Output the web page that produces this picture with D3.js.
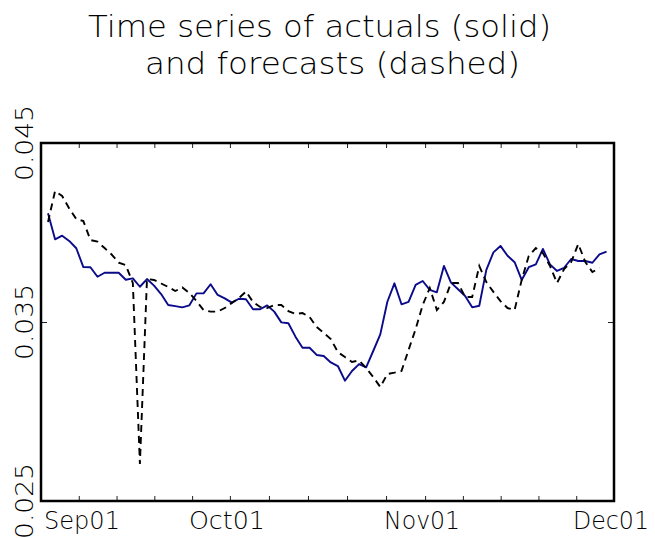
<!DOCTYPE html>
<html>
<head>
<meta charset="UTF-8">
<title>Actuals vs forecasts</title>
<script src="https://d3js.org/d3.v7.min.js"></script>
<style>
  body { margin: 0; background: #fff; overflow: hidden; }
  svg { display: block; }
  text { font-family: 'DejaVu Sans', sans-serif; font-weight: 200; fill: #000; }
  .tick line { stroke: #222; stroke-width: 1; }
  .domain { display: none; }
</style>
</head>
<body>
<svg id="chart" width="655" height="538"></svg>
<script>
// --- data ---
const titleLines = ["Time series of actuals (solid)", "and forecasts (dashed)"];
const monthTicks = ["2001-09-01", "2001-10-01", "2001-11-01", "2001-12-01"];
const yTicks = [0.025, 0.035, 0.045];

// sampling of the series (days after Sep 1)
const firstOffset = 1.112, stepDays = 1.1228;

const actual = [
  0.04107, 0.03962, 0.03982, 0.03953, 0.03912, 0.03807, 0.03806, 0.03753, 0.03775, 0.03775,
  0.03775, 0.03736, 0.03744, 0.03697, 0.03740, 0.03703, 0.03656, 0.03595, 0.03589, 0.03582,
  0.03593, 0.03660, 0.03660, 0.03711, 0.03651, 0.03632, 0.03608, 0.03630, 0.03627, 0.03571,
  0.03571, 0.03593, 0.03558, 0.03498, 0.03493, 0.03418, 0.03356, 0.03356, 0.03316, 0.03310,
  0.03274, 0.03254, 0.03172, 0.03226, 0.03265, 0.03247, 0.03338, 0.03431, 0.03613, 0.03716,
  0.03599, 0.03613, 0.03707, 0.03729, 0.03679, 0.03666, 0.03813, 0.03720, 0.03683, 0.03645,
  0.03582, 0.03591, 0.03791, 0.03889, 0.03925, 0.03870, 0.03834, 0.03735, 0.03806, 0.03822,
  0.03908, 0.03822, 0.03785, 0.03803, 0.03852, 0.03841, 0.03841, 0.03831, 0.03878, 0.03893
];

const forecast = [
  0.04059, 0.04232, 0.04204, 0.04134, 0.04075, 0.04064, 0.03958, 0.03949, 0.03913, 0.03877,
  0.03832, 0.03818, 0.03718, 0.02707, 0.03740, 0.03735, 0.03715, 0.03696, 0.03673, 0.03693,
  0.03662, 0.03617, 0.03567, 0.03558, 0.03558, 0.03578, 0.03606, 0.03634, 0.03670, 0.03612,
  0.03584, 0.03578, 0.03595, 0.03595, 0.03561, 0.03545, 0.03550, 0.03528, 0.03472, 0.03439,
  0.03405, 0.03332, 0.03304, 0.03277, 0.03285, 0.03243, 0.03193, 0.03137, 0.03209, 0.03217,
  0.03226, 0.03344, 0.03461, 0.03595, 0.03690, 0.03567, 0.03612, 0.03718, 0.03718, 0.03640,
  0.03640, 0.03813, 0.03723, 0.03668, 0.03617, 0.03578, 0.03567, 0.03735, 0.03869, 0.03913,
  0.03885, 0.03813, 0.03718, 0.03796, 0.03835, 0.03936, 0.03835, 0.03779, 0.03802
];

// --- layout ---
const svg = d3.select("#chart");
const plot = { left: 41, right: 614, top: 143, bottom: 501 };

const parse = d3.timeParse("%Y-%m-%d");
const months = monthTicks.map(parse);
const t0 = months[0];
const sampleDate = i => d3.timeMinute.offset(t0, Math.round((firstOffset + stepDays * i) * 1440));

const x = d3.scaleTime().domain([months[0], months[months.length - 1]]).range([plot.left, plot.right]);
const y = d3.scaleLinear().domain([0.025, 0.045]).range([plot.bottom, plot.top]);

// 5 minor intervals per month
const minor = [];
for (let k = 0; k < months.length - 1; k++) {
  const a = +months[k], b = +months[k + 1];
  for (let j = 1; j < 5; j++) minor.push(new Date(a + (b - a) * j / 5));
}
const allTicks = months.concat(minor);

// --- title ---
svg.append("text").attr("x", 88).attr("y", 37)
  .attr("font-size", 30).attr("textLength", 463).attr("lengthAdjust", "spacingAndGlyphs")
  .text(titleLines[0]);
svg.append("text").attr("x", 145).attr("y", 74)
  .attr("font-size", 30).attr("textLength", 375).attr("lengthAdjust", "spacingAndGlyphs")
  .text(titleLines[1]);

// --- axes (ticks point inward) ---
svg.append("g").attr("transform", `translate(0,${plot.bottom})`)
  .call(d3.axisBottom(x).tickValues(allTicks).tickSizeInner(-5).tickSizeOuter(0).tickFormat(""));
svg.append("g").attr("transform", `translate(0,${plot.top})`)
  .call(d3.axisTop(x).tickValues(allTicks).tickSizeInner(-5).tickSizeOuter(0).tickFormat(""));
svg.append("g").attr("transform", `translate(${plot.left},0)`)
  .call(d3.axisLeft(y).tickValues(yTicks).tickSizeInner(-6).tickSizeOuter(0).tickFormat(""));
svg.append("g").attr("transform", `translate(${plot.right},0)`)
  .call(d3.axisRight(y).tickValues(yTicks).tickSizeInner(-6).tickSizeOuter(0).tickFormat(""));

// x labels
const fmt = d3.timeFormat("%b%d");
svg.append("g").selectAll("text").data(months).join("text")
  .attr("x", (d, i) => i === 0 ? x(d) + 3 : x(d) - 3)
  .attr("y", 529)
  .attr("text-anchor", (d, i) => i === 0 ? "start" : "middle")
  .attr("font-size", 24)
  .attr("textLength", 76).attr("lengthAdjust", "spacingAndGlyphs")
  .text(fmt);

// y labels, rotated
svg.append("g").selectAll("text").data(yTicks).join("text")
  .attr("transform", d => `translate(33,${y(d)}) rotate(-90)`)
  .attr("text-anchor", "middle")
  .attr("font-size", 24)
  .attr("textLength", 76).attr("lengthAdjust", "spacingAndGlyphs")
  .text(d => d3.format(".3f")(d));

// --- series ---
const line = d3.line().x((d, i) => x(sampleDate(i))).y(d => y(d));

svg.append("path").datum(actual)
  .attr("fill", "none").attr("stroke", "#0a0a8a").attr("stroke-width", 1.9)
  .attr("stroke-linejoin", "round").attr("d", line);

svg.append("path").datum(forecast)
  .attr("fill", "none").attr("stroke", "#000").attr("stroke-width", 1.9)
  .attr("stroke-dasharray", "7,5").attr("d", line);

// plot frame
svg.append("rect")
  .attr("x", plot.left).attr("y", plot.top)
  .attr("width", plot.right - plot.left).attr("height", plot.bottom - plot.top)
  .attr("fill", "none").attr("stroke", "#000").attr("stroke-width", 2.5);
</script>
</body>
</html>
